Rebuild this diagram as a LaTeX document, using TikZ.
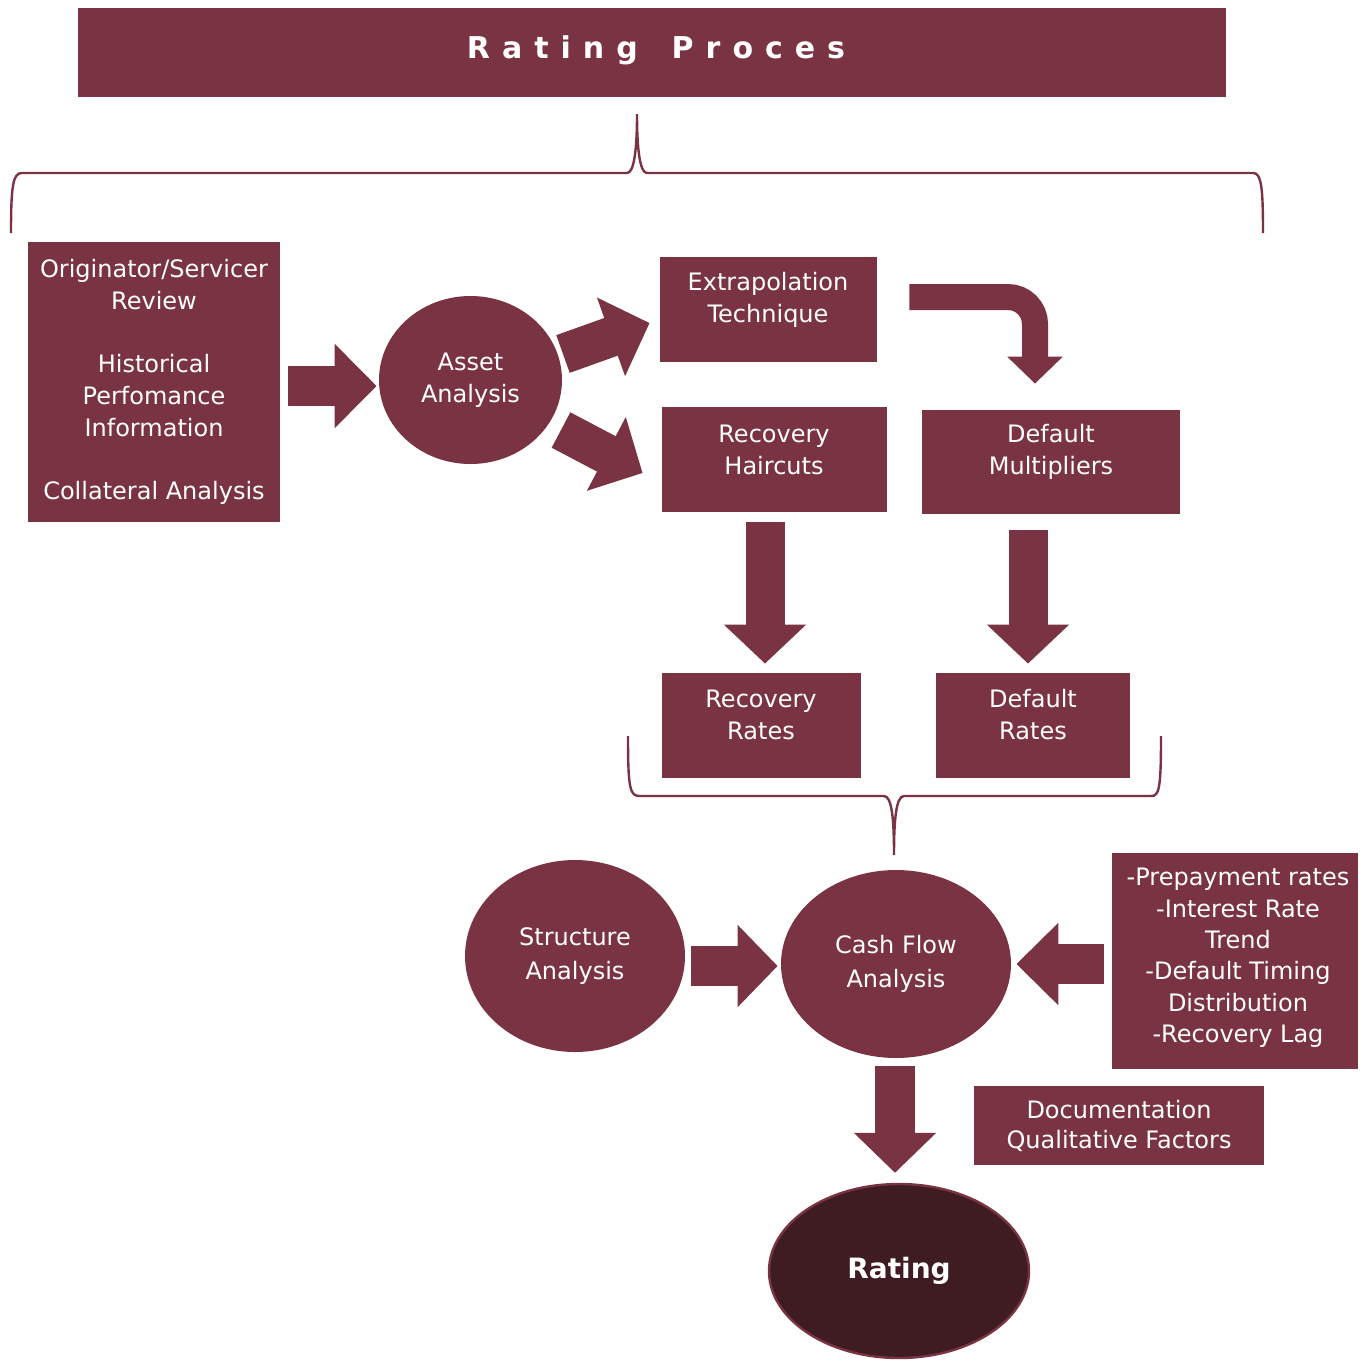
\documentclass[tikz,border=0pt]{standalone}
\usepackage{fontspec}
\setmainfont{DejaVu Sans}
\newfontfamily\titlefont{DejaVu Sans}[LetterSpace=40]
\usetikzlibrary{arrows.meta,calc,shapes.geometric}
\definecolor{wine}{HTML}{7A3343}
\definecolor{darkwine}{HTML}{3E1C21}
\tikzset{
    box/.style={fill=wine,inner sep=0pt},
    txt/.style={text=white,align=center,inner sep=0pt,font=\fontsize{12}{16}\selectfont},
    blob/.style={ellipse,fill=wine,inner sep=0pt,text=white,align=center,font=\fontsize{12}{16}\selectfont},
    fatarrow/.style={draw=wine,line width=20pt,-{Triangle[length=20pt,width=40pt]}},
    bracket/.style={draw=wine,line width=1.2pt},
}
\begin{document}
\begin{tikzpicture}[x=0.5pt,y=-0.5pt]
    \useasboundingbox (0,0) rectangle (1370,1361);
    %% Title
    \node[box,minimum width=574pt,minimum height=44.5pt] (title) at (652,52.5) {};
    \node[txt,font=\titlefont\bfseries\fontsize{15}{18}\selectfont] (titletext) at (656,50) {Rating\kern17pt Proces};
    %% Top bracket
    \draw[bracket] (11,233) .. controls (11,185) and (13,173) .. (22,173) -- (627,173)
        .. controls (634,173) and (637,150) .. (637,114)
        .. controls (637,150) and (640,173) .. (647,173) -- (1253,173)
        .. controls (1261,173) and (1263,185) .. (1263,233);
    %% Boxes
    \node[box,minimum width=126pt,minimum height=140pt,txt] (review) at (154,382)
        {Originator/Servicer\\Review\\[15.5pt]Historical\\Perfomance\\Information\\[15.5pt]Collateral Analysis};
    \node[box,minimum width=108.5pt,minimum height=52.5pt] (extrap) at (768.5,309.5) {};
    \node[txt] (extraptext) at (768,300) {Extrapolation\\Technique};
    \node[box,minimum width=112.5pt,minimum height=52.5pt] (haircuts) at (774.5,459.5) {};
    \node[txt] (haircutstext) at (774,449.5) {Recovery\\Haircuts};
    \node[box,minimum width=129pt,minimum height=52pt] (defmult) at (1051,462) {};
    \node[txt] (defmulttext) at (1051,451.5) {Default\\Multipliers};
    \node[box,minimum width=99.5pt,minimum height=52.5pt] (recrates) at (761.5,725.5) {};
    \node[txt] (recratestext) at (761,715) {Recovery\\Rates};
    \node[box,minimum width=97pt,minimum height=52.5pt] (defrates) at (1033,725.5) {};
    \node[txt] (defratestext) at (1033,715) {Default\\Rates};
    \node[box,minimum width=123pt,minimum height=108pt] (params) at (1235,961) {};
    \node[txt,font=\fontsize{12}{15.7}\selectfont] (paramstext) at (1238,958)
        {-Prepayment rates\\-Interest Rate\\Trend\\-Default Timing\\Distribution\\-Recovery Lag};
    \node[box,minimum width=145pt,minimum height=39.5pt,txt,font=\fontsize{12}{15}\selectfont] (docs) at (1119,1125.5)
        {Documentation\\Qualitative Factors};
    %% Ellipses
    \node[blob,minimum width=91.5pt,minimum height=84pt] (asset) at (470.5,380) {Asset\\Analysis};
    \node[blob,minimum width=110pt,minimum height=96pt,font=\fontsize{12}{17}\selectfont] (struct) at (575,956) {Structure\\Analysis};
    \node[blob,minimum width=115pt,minimum height=94pt,font=\fontsize{12}{17}\selectfont] (cash) at (896,964) {Cash Flow\\Analysis};
    \node[blob,fill=darkwine,draw=wine,line width=1.2pt,minimum width=130pt,minimum height=87pt,
        font=\bfseries\fontsize{14}{17}\selectfont] (rating) at (899,1271) {Rating};
    %% Lower bracket
    \draw[bracket] (628,736) .. controls (628,790) and (630,796) .. (640,796) -- (884,796)
        .. controls (892,796) and (894,820) .. (894,855)
        .. controls (894,820) and (896,796) .. (904,796) -- (1151,796)
        .. controls (1159,796) and (1161,790) .. (1161,736);
    %% Arrows
    \draw[fatarrow,-{Triangle[length=21pt,width=41pt]}] ($(review.east)+(8,4)$) -- ($(asset.west)+(-2,6)$);
    \draw[fatarrow,-{Triangle[length=20.5pt,width=40.5pt]}] ($(asset.center)+(92.5,-26)$) -- ($(extrap.west)+(-10,13.5)$);
    \draw[fatarrow,-{Triangle[length=20.5pt,width=40.5pt]}] ($(asset.center)+(90.5,50)$) -- ($(haircuts.west)+(-19,13.5)$);
    \draw[draw=wine,line width=13pt,rounded corners=13.5pt,-{Triangle[length=13.5pt,width=27pt]}]
        ($(extrap.east)+(32,-12.5)$) -| ($(defmult.north)+(-16,-26)$);
    \draw[fatarrow,line width=19.5pt,-{Triangle[length=19.5pt,width=40pt]}] ($(haircuts.south)+(-9.5,10)$) -- ($(recrates.north)+(3.5,-9)$);
    \draw[fatarrow,line width=19.5pt,-{Triangle[length=19.5pt,width=40pt]}] ($(defmult.south)+(-23,16)$) -- ($(defrates.north)+(-5,-9)$);
    \draw[fatarrow] ($(struct.east)+(6,10)$) -- ($(cash.west)+(-3,2)$);
    \draw[fatarrow,-{Triangle[length=21pt,width=40pt]}] ($(params.west)+(-8,3)$) -- ($(cash.east)+(5,0)$);
    \draw[fatarrow] ($(cash.south)+(-1,8)$) -- ($(rating.north)+(-4,-10)$);
\end{tikzpicture}
\end{document}
